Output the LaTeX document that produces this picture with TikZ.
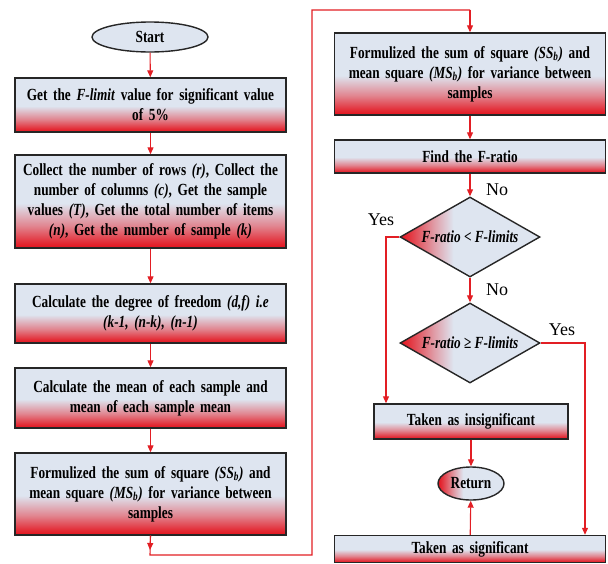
\documentclass[tikz,border=0pt]{standalone}
\usepackage{fontspec}
\setmainfont{Liberation Serif}
\newfontfamily\bxfont{Liberation Serif}[FakeStretch=0.78]
\usetikzlibrary{arrows.meta,shapes.geometric}
\definecolor{bblue}{RGB}{222,229,240}
\definecolor{bred}{RGB}{228,18,28}
\definecolor{ared}{RGB}{226,30,36}
\pgfdeclareverticalshading{boxshade}{100bp}{color(0bp)=(bred); color(25bp)=(bred); color(28bp)=(bred!88!bblue); color(37bp)=(bred!45!bblue); color(49bp)=(bblue); color(100bp)=(bblue)}
\pgfdeclarehorizontalshading{leftshade}{100bp}{color(0bp)=(bred); color(25bp)=(bred); color(29bp)=(bred!80!bblue); color(37bp)=(bred!35!bblue); color(44bp)=(bblue); color(100bp)=(bblue)}
\tikzset{
  box/.style={draw=black!85, line width=1.4pt, shading=boxshade, text width=264pt, inner xsep=3.5pt, inner ysep=2pt, align=center, font=\bxfont\bfseries\fontsize{17}{20}\selectfont},
  dia/.style={diamond, draw=black!85, line width=1.4pt, shading=leftshade, shape aspect=1.75, inner sep=0pt, minimum width=140pt, minimum height=80pt, font=\bxfont\bfseries\itshape\fontsize{17}{20}\selectfont},
  oval/.style={ellipse, draw=black!85, line width=1.4pt, inner sep=0pt, font=\bxfont\bfseries\fontsize{17}{20}\selectfont},
  lbl/.style={font=\fontsize{18}{20}\selectfont, inner sep=0pt},
  conn/.style={draw=ared, line width=1.1pt},
  arr/.style={conn, -{Triangle[length=7pt,width=6pt]}}
}
\begin{document}
\begin{tikzpicture}[x=1pt,y=-1pt]
\useasboundingbox (0,0) rectangle (608,563);
% left column
\node[oval, fill=bblue, minimum width=116pt, minimum height=30pt] (start) at (150,37) {Start};
\node[box, minimum height=54pt] (b1) at (150.5,105) {Get the \textit{F-limit} value for significant value\\ of 5\%};
\node[box, minimum height=93pt] (b2) at (150.5,201.5) {Collect the number of rows \textit{(r)}, Collect the\\ number of columns \textit{(c)}, Get the sample\\ values \textit{(T)}, Get the total number of items\\ \textit{(n)}, Get the number of sample \textit{(k)}};
\node[box, minimum height=59pt] (b3) at (150.5,313.5) {Calculate the degree of freedom \textit{(d,f) i.e}\\ \textit{(k-1, (n-k), (n-1)}};
\node[box, minimum height=60pt] (b4) at (150.5,398) {Calculate the mean of each sample and\\ mean of each sample mean};
\node[box, minimum height=82pt] (b5) at (150.5,494) {Formulized the sum of square \textit{(SS\textsubscript{b})} and\\ mean square \textit{(MS\textsubscript{b})} for variance between\\ samples};
% right column
\node[box, minimum height=82pt] (b6) at (470,74) {Formulized the sum of square \textit{(SS\textsubscript{b})} and\\ mean square \textit{(MS\textsubscript{b})} for variance between\\ samples};
\node[box, minimum height=33pt] (b7) at (470,156.5) {Find the F-ratio};
\node[dia] (d1) at (470,237) {F-ratio {\upshape<} F-limits};
\node[dia] (d2) at (470,343) {F-ratio {\upshape≥} F-limits};
\node[box, text width=187pt, minimum height=35pt] (ins) at (471,421.5) {Taken as insignificant};
\node[oval, shading=leftshade, minimum width=66pt, minimum height=33pt] (ret) at (471,483.5) {Return};
\node[box, minimum height=27pt] (sig) at (470,549) {Taken as significant};
% labels
\node[lbl] (no1) at (497,190) {No};
\node[lbl] (yes1) at (381,220) {Yes};
\node[lbl] (no2) at (497,290) {No};
\node[lbl] (yes2) at (562,330) {Yes};
% connectors
\coordinate (c1) at (150,550);
\coordinate (c2) at (150,555);
\coordinate (c3) at (312,555);
\coordinate (c4) at (312,10);
\coordinate (c5) at (470,10);
\coordinate (y1) at (386,237);
\coordinate (y2) at (585,343);
\draw[arr] (start) -- (b1);
\draw[arr] (b1) -- (b2);
\draw[arr] (b2) -- (b3);
\draw[arr] (b3) -- (b4);
\draw[arr] (b4) -- (b5);
\draw[arr] (b5.south) -- (c1);
\draw[conn] (b5.south) -- (c2) -- (c3) -- (c4) -- (c5);
\draw[arr] (c5) -- (b6.north);
\draw[arr] (b6) -- (b7);
\draw[arr] (b7) -- (d1);
\draw[arr] (d1.west) -- (y1) -- (y1 |- ins.north);
\draw[arr] (d1) -- (d2);
\draw[arr] (d2.east) -- (y2) -- (y2 |- sig.north);
\draw[arr] (ins) -- (ret);
\draw[arr] (sig) -- (ret);
\end{tikzpicture}
\end{document}
